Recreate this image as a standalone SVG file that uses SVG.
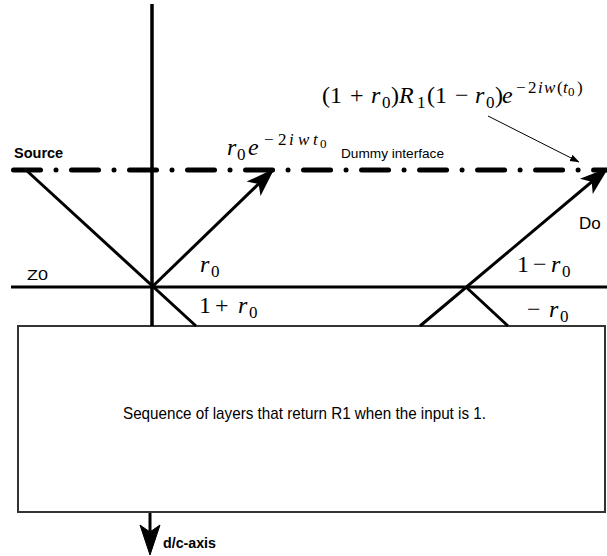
<svg xmlns="http://www.w3.org/2000/svg" width="607" height="556" viewBox="0 0 607 556">
<style>
.sans{font-family:"Liberation Sans",Arial,sans-serif;fill:#000}
.b{font-weight:bold}
.m{font-family:"Liberation Serif","Times New Roman",serif;font-size:24px;fill:#000}
.i{font-style:italic}
.s{font-size:17px}
.ss{font-size:13px}
.thick{stroke:#000;stroke-width:3;fill:none}
.box{stroke:#333;stroke-width:2;fill:#fff}
</style>
<defs>
<marker id="big" markerUnits="userSpaceOnUse" markerWidth="30" markerHeight="24" viewBox="0 0 30 24" refX="27" refY="12" orient="auto">
<path d="M0,2 L29,12 L0,22 L7,12 Z" fill="#000"/>
</marker>
<marker id="small" markerUnits="userSpaceOnUse" markerWidth="10" markerHeight="8" viewBox="0 0 10 8" refX="9" refY="4" orient="auto">
<path d="M0,0.5 L9.5,4 L0,7.5 Z" fill="#000"/>
</marker>
</defs>
<rect width="607" height="556" fill="#fff"/>

<g id="layers">
<rect class="box" x="18" y="326" width="587" height="186"/>
<text class="sans" x="123" y="419" font-size="17" textLength="363" lengthAdjust="spacingAndGlyphs">Sequence of layers that return R1 when the input is 1.</text>
</g>

<g id="axis-line">
<line x1="152" y1="4" x2="152" y2="326" stroke="#000" stroke-width="3.5"/>
</g>

<g id="dummy-interface">
<line x1="13.5" y1="170" x2="607" y2="170" stroke="#000" stroke-width="5" stroke-linecap="round" stroke-dasharray="27 15.5 0.01 15.5"/>
<text class="sans b" x="14" y="158" font-size="14.5">Source</text>
<text class="sans" x="341" y="158" font-size="13.5" textLength="103" lengthAdjust="spacingAndGlyphs">Dummy interface</text>
</g>

<g id="z0">
<line x1="11" y1="287" x2="607" y2="287" stroke="#000" stroke-width="3"/>
<text class="sans" x="27" y="280" font-size="15" textLength="21" lengthAdjust="spacingAndGlyphs">Z0</text>
</g>

<g id="connectors">
<line class="thick" x1="26" y1="170" x2="196" y2="326"/>
<line class="thick" x1="152" y1="287" x2="273" y2="170" marker-end="url(#big)"/>
<line class="thick" x1="420" y1="326" x2="607" y2="169" marker-end="url(#big)"/>
<line class="thick" x1="466" y1="287" x2="508" y2="326"/>
<line x1="488" y1="116" x2="579" y2="162" stroke="#000" stroke-width="1" marker-end="url(#small)"/>
<line x1="150" y1="513" x2="150" y2="536" stroke="#000" stroke-width="3"/>
<polygon points="150,555 140,525 150,532 160,525" fill="#000" stroke="#000" stroke-width="1" stroke-linejoin="round"/>
</g>

<g id="labels">
<text class="m"><tspan class="i" x="227" y="155">r</tspan><tspan class="s" x="237" y="160">0</tspan><tspan class="i" x="248" y="155">e</tspan><tspan class="s" x="264" y="145">−</tspan><tspan class="s" x="278" y="145">2</tspan><tspan class="s i" x="289" y="145">i</tspan><tspan class="s i" x="298" y="145">w</tspan><tspan class="s i" x="313" y="145">t</tspan><tspan class="ss" x="320" y="148">0</tspan></text>

<text class="m"><tspan x="322" y="103">(</tspan><tspan x="330" y="103">1</tspan><tspan x="350" y="103">+</tspan><tspan class="i" x="371" y="103">r</tspan><tspan class="s" x="382" y="108">0</tspan><tspan x="391" y="103">)</tspan><tspan class="i" x="399" y="103">R</tspan><tspan class="s" x="417" y="108">1</tspan><tspan x="427" y="103">(</tspan><tspan x="435" y="103">1</tspan><tspan x="455" y="103">−</tspan><tspan class="i" x="475" y="103">r</tspan><tspan class="s" x="486" y="108">0</tspan><tspan x="495" y="103">)</tspan><tspan class="i" x="502" y="103">e</tspan><tspan class="s" x="516" y="93">−</tspan><tspan class="s" x="528" y="93">2</tspan><tspan class="s i" x="538" y="93">i</tspan><tspan class="s i" x="544" y="93">w</tspan><tspan class="s" x="557" y="93">(</tspan><tspan class="s i" x="563" y="93">t</tspan><tspan class="ss" x="568" y="96">0</tspan><tspan class="s" x="577" y="93">)</tspan></text>

<text class="m"><tspan class="i" x="200" y="272">r</tspan><tspan class="s" x="211" y="277">0</tspan></text>
<text class="m"><tspan x="199" y="313">1</tspan><tspan x="215" y="313">+</tspan><tspan class="i" x="238" y="313">r</tspan><tspan class="s" x="249" y="318">0</tspan></text>
<text class="m"><tspan x="517" y="272">1</tspan><tspan x="533" y="272">−</tspan><tspan class="i" x="551" y="272">r</tspan><tspan class="s" x="562" y="277">0</tspan></text>
<text class="m"><tspan x="527" y="317">−</tspan><tspan class="i" x="549" y="317">r</tspan><tspan class="s" x="560" y="322">0</tspan></text>

<text class="sans" x="579" y="229" font-size="17">Do</text>
<text class="sans b" x="163" y="548" font-size="15" textLength="53" lengthAdjust="spacingAndGlyphs">d/c-axis</text>
</g>
</svg>
